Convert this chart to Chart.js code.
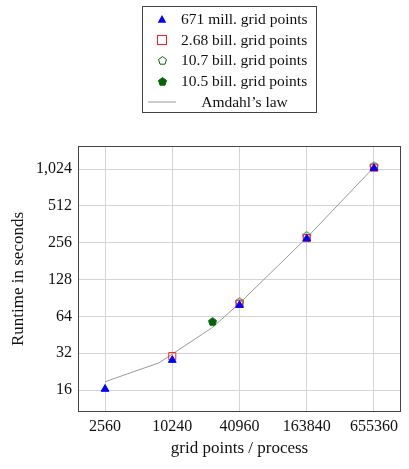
<!DOCTYPE html>
<html>
<head>
<meta charset="utf-8">
<script src="https://cdn.jsdelivr.net/npm/chart.js@4.4.1/dist/chart.umd.min.js"></script>
<style>
  html, body { margin: 0; padding: 0; background: #fff; }
  #wrap { position: relative; width: 409px; height: 469px; }
  #legend {
    position: absolute; left: 142px; top: 6px; width: 175px; height: 107px;
    border: 1px solid #444; box-sizing: border-box;
    font-family: "Liberation Serif", serif; font-size: 15.5px; color: #111;
    padding-top: 2px;
  }
  .row { display: flex; align-items: center; height: 20.6px; }
  .mark { width: 38px; display: flex; justify-content: center; align-items: center; }
  .txt { flex: 1; white-space: nowrap; }
  .row.center .txt { text-align: center; padding-right: 8px; }
</style>
</head>
<body>
<div id="wrap">
  <canvas id="runtimeChart" width="409" height="469"></canvas>
  <div id="legend"></div>
</div>
<script>
// Runtime vs. grid points per process, log2 on both axes

const X_TICKS = [2560, 10240, 40960, 163840, 655360];
const Y_TICKS = [16, 32, 64, 128, 256, 512, 1024];

// 671 mill. grid points
const x671M = [2560, 10240, 40960, 163840, 655360];
const y671M = [16.3, 28.1, 79, 276, 1040];

// 2.68 bill. grid points
const x268B = [10240, 40960, 163840, 655360];
const y268B = [30.3, 81, 279, 1050];

// 10.7 bill. grid points
const x107B = [40960, 163840, 655360];
const y107B = [84, 292, 1085];

// 10.5 bill. grid points
const x105B = [23500];
const y105B = [58];

// Amdahl's law fit
const xAmdahl = [2560, 7800, 23500, 40960, 163840, 655360];
const yAmdahl = [18.7, 26.7, 52, 81.8, 281, 1060];

const BLUE = "#0000ff";
const RED = "#ff2020";
const GREEN = "#006400";
const GRID_CLR = "#d4d4d4";
const FONT = "'Liberation Serif', serif";

const pairs = (xs, ys) => xs.map((x, i) => ({ x, y: ys[i] }));

// pentagon marker drawn once into a small canvas, used as pointStyle
function pentagon(filled) {
  const c = document.createElement("canvas");
  c.width = 11;
  c.height = 11;
  const g = c.getContext("2d");
  g.beginPath();
  for (let k = 0; k < 5; k++) {
    const a = -Math.PI / 2 + (k * 2 * Math.PI) / 5;
    const px = 5.5 + 4.2 * Math.cos(a);
    const py = 5.8 + 4.2 * Math.sin(a);
    k === 0 ? g.moveTo(px, py) : g.lineTo(px, py);
  }
  g.closePath();
  if (filled) {
    g.fillStyle = GREEN;
    g.fill();
  }
  g.strokeStyle = GREEN;
  g.lineWidth = 1;
  g.stroke();
  return c;
}

const frameBox = {
  id: "frameBox",
  afterDraw(chart) {
    const { ctx, chartArea: a } = chart;
    ctx.save();
    ctx.strokeStyle = "#444";
    ctx.lineWidth = 1;
    ctx.strokeRect(a.left + 0.5, a.top + 0.5, a.right - a.left - 1, a.bottom - a.top - 1);
    ctx.restore();
  },
};

const chart = new Chart(document.getElementById("runtimeChart"), {
  type: "scatter",
  data: {
    datasets: [
      {
        label: "671 mill. grid points",
        data: pairs(x671M, y671M),
        pointStyle: "triangle",
        pointRadius: 4.5,
        backgroundColor: BLUE,
        borderColor: BLUE,
        borderWidth: 1,
        order: 3,
      },
      {
        label: "2.68 bill. grid points",
        data: pairs(x268B, y268B),
        pointStyle: "rect",
        pointRadius: 5,
        backgroundColor: "rgba(0,0,0,0)",
        borderColor: RED,
        borderWidth: 1,
        order: 4,
      },
      {
        label: "10.7 bill. grid points",
        data: pairs(x107B, y107B),
        pointStyle: pentagon(false),
        order: 5,
      },
      {
        label: "10.5 bill. grid points",
        data: pairs(x105B, y105B),
        pointStyle: pentagon(true),
        order: 2,
      },
      {
        type: "line",
        label: "Amdahl\u2019s law",
        data: pairs(xAmdahl, yAmdahl),
        borderColor: "#9a9a9a",
        borderWidth: 1,
        pointRadius: 0,
        fill: false,
        tension: 0,
        order: 6,
      },
    ],
  },
  options: {
    responsive: false,
    animation: false,
    layout: { padding: { top: 146, left: 0, right: 8, bottom: 0 } },
    plugins: {
      legend: { display: false },
      tooltip: { enabled: false },
    },
    scales: {
      x: {
        type: "logarithmic",
        min: 1466,
        max: 1144000,
        afterBuildTicks: (s) => { s.ticks = X_TICKS.map((v) => ({ value: v })); },
        afterFit: (s) => { s.height = 57; },
        grid: { color: GRID_CLR, drawTicks: false },
        border: { display: false },
        ticks: {
          padding: 5,
          maxRotation: 0,
          color: "#111",
          font: { family: FONT, size: 16 },
          callback: (v) => String(v),
        },
        title: {
          display: true,
          text: "grid points / process",
          color: "#111",
          font: { family: FONT, size: 17 },
          padding: { top: 0, bottom: 10 },
        },
      },
      y: {
        type: "logarithmic",
        min: 10.58,
        max: 1579,
        afterBuildTicks: (s) => { s.ticks = Y_TICKS.map((v) => ({ value: v })); },
        afterFit: (s) => { s.width = 78; },
        grid: { color: GRID_CLR, drawTicks: false },
        border: { display: false },
        ticks: {
          padding: 6,
          color: "#111",
          font: { family: FONT, size: 16 },
          callback: (v) => Number(v).toLocaleString("en-US"),
        },
        title: {
          display: true,
          text: "Runtime in seconds",
          color: "#111",
          font: { family: FONT, size: 17 },
          padding: { top: 8, bottom: 0 },
        },
      },
    },
  },
  plugins: [frameBox],
});

// ─── HTML legend built from the datasets ─────────────────────────────────────

function legendMarker(ds) {
  if (ds.type === "line") {
    return '<svg width="28" height="4"><line x1="0" y1="2" x2="28" y2="2" stroke="#9a9a9a" stroke-width="1"/></svg>';
  }
  if (ds.pointStyle === "triangle") {
    return '<svg width="10" height="10"><polygon points="5,1 9.3,8.8 0.7,8.8" fill="' + BLUE + '"/></svg>';
  }
  if (ds.pointStyle === "rect") {
    return '<svg width="10" height="10"><rect x="0.5" y="0.5" width="9" height="9" fill="none" stroke="' + RED + '"/></svg>';
  }
  const c = ds.pointStyle;
  return '<img width="11" height="11" src="' + c.toDataURL() + '">';
}

const legendEl = document.getElementById("legend");
legendEl.innerHTML = chart.data.datasets
  .map((ds) => {
    const cls = ds.type === "line" ? "row center" : "row";
    return '<div class="' + cls + '"><span class="mark">' + legendMarker(ds) +
      '</span><span class="txt">' + ds.label + "</span></div>";
  })
  .join("");
</script>
</body>
</html>
